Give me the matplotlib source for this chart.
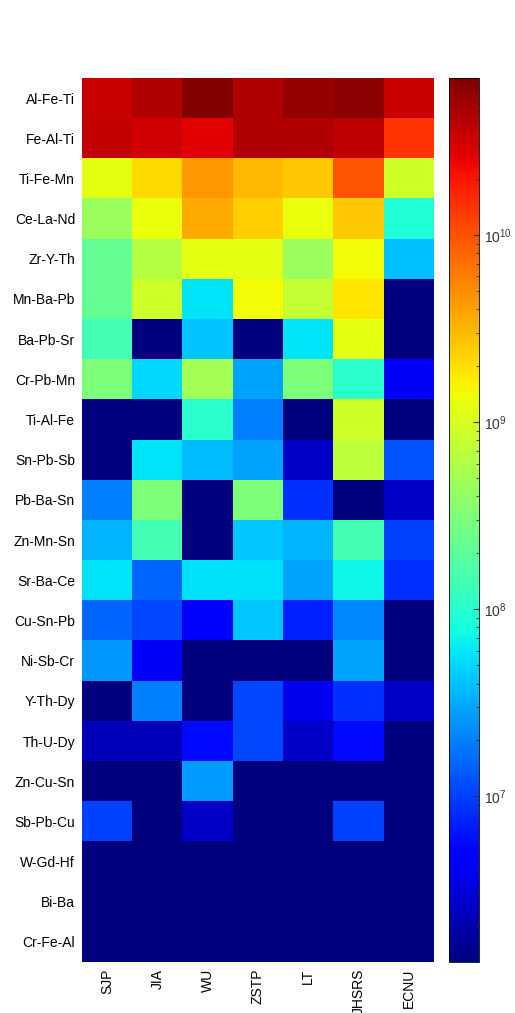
# Heatmap of element-association intensities per site (jet, log scale)
import numpy as np
import matplotlib
matplotlib.use('Agg')
import matplotlib.pyplot as plt
from matplotlib.colors import LogNorm

plt.rcParams['font.family'] = ['Liberation Sans', 'DejaVu Sans']

sites = ['SJP', 'JIA', 'WU', 'ZSTP', 'LT', 'JHSRS', 'ECNU']
groups = ['Al-Fe-Ti', 'Fe-Al-Ti', 'Ti-Fe-Mn', 'Ce-La-Nd', 'Zr-Y-Th', 'Mn-Ba-Pb',
          'Ba-Pb-Sr', 'Cr-Pb-Mn', 'Ti-Al-Fe', 'Sn-Pb-Sb', 'Pb-Ba-Sn', 'Zn-Mn-Sn',
          'Sr-Ba-Ce', 'Cu-Sn-Pb', 'Ni-Sb-Cr', 'Y-Th-Dy', 'Th-U-Dy', 'Zn-Cu-Sn',
          'Sb-Pb-Cu', 'W-Gd-Hf', 'Bi-Ba', 'Cr-Fe-Al']

vmin, vmax = 1.3e6, 6.9e10
m = vmin  # cells at the floor of the scale

# one list per site, top row first
SJP   = [3.4e10, 3.5e10, 1.2e9, 4.4e8, 2.2e8, 2.2e8, 1.4e8, 3.1e8, m, m, 2.0e7, 3.5e7,
         5.8e7, 1.5e7, 2.6e7, m, 2.3e6, m, 1.0e7, m, m, m]
JIA   = [4.3e10, 3.1e10, 2.1e9, 1.3e9, 6.2e8, 8.7e8, m, 5.2e7, m, 5.8e7, 3.1e8, 1.4e8,
         1.5e7, 1.13e7, 4.2e6, 2.0e7, 2.3e6, m, m, m, m, m]
WU    = [6.6e10, 2.7e10, 4.4e9, 3.6e9, 1.2e9, 5.8e7, 4.2e7, 5.1e8, 1.0e8, 3.75e7, m, m,
         5.5e7, 4.7e6, m, m, 5.6e6, 2.7e7, 2.6e6, m, m, m]
ZSTP  = [4.3e10, 4.3e10, 3.1e9, 2.4e9, 1.2e9, 1.4e9, m, 3.0e7, 2.0e7, 3.0e7, 3.1e8, 4.4e7,
         5.5e7, 4.4e7, m, 1.13e7, 1.13e7, m, m, m, m, m]
LT    = [5.4e10, 4.3e10, 2.6e9, 1.3e9, 4.4e8, 7.9e8, 5.8e7, 3.0e8, m, 2.6e6, 8.6e6, 3.5e7,
         3.0e7, 7.3e6, m, 3.8e6, 2.6e6, m, m, m, m, m]
JHSRS = [5.9e10, 3.8e10, 9.7e9, 2.6e9, 1.4e9, 1.8e9, 1.2e9, 1.0e8, 8.7e8, 7.1e8, m, 1.4e8,
         7.2e7, 2.2e7, 3.0e7, 8.6e6, 5.6e6, m, 1.0e7, m, m, m]
ECNU  = [3.4e10, 1.4e10, 8.7e8, 9.0e7, 3.9e7, m, m, 4.2e6, m, 1.26e7, 2.6e6, 1.0e7,
         8.6e6, m, m, 2.6e6, m, m, m, m, m, m]

values = np.array([SJP, JIA, WU, ZSTP, LT, JHSRS, ECNU]).T

fig = plt.figure(figsize=(5.15, 10.13), dpi=100)
ax = fig.add_axes([82 / 515, 1 - 962 / 1013, 352 / 515, 884 / 1013])
cax = fig.add_axes([449 / 515, 1 - 962 / 1013, 30 / 515, 884 / 1013])

im = ax.imshow(values, cmap='jet', norm=LogNorm(vmin=vmin, vmax=vmax),
               aspect='auto', interpolation='nearest')
ax.set_xticks(range(len(sites)))
ax.set_xticklabels(sites, rotation=90, fontsize=10)
ax.set_yticks(range(len(groups)))
ax.set_yticklabels(groups, fontsize=10)
ax.tick_params(length=0, pad=5)
for s in ax.spines.values():
    s.set_visible(False)

cb = fig.colorbar(im, cax=cax)
cb.ax.tick_params(which='both', direction='in', labelsize=10, colors='#333333')
cb.ax.tick_params(which='major', length=4)
cb.ax.tick_params(which='minor', length=2)
cb.outline.set_linewidth(0.6)

fig.savefig('out.png', dpi=100)
